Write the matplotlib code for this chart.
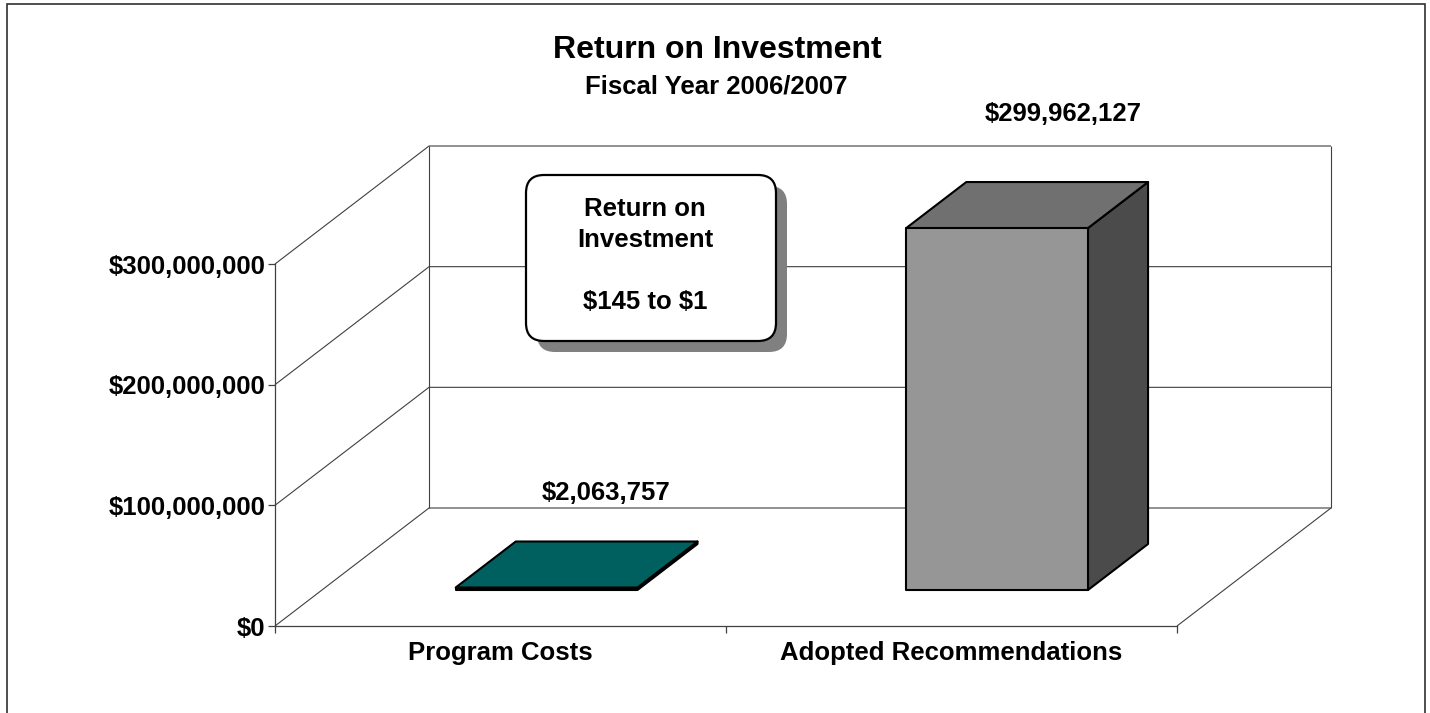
import matplotlib
matplotlib.use('Agg')
import matplotlib.pyplot as plt
from matplotlib.patches import Polygon, FancyBboxPatch, Rectangle

plt.rcParams['font.family'] = ['Liberation Sans', 'DejaVu Sans']
plt.rcParams['font.weight'] = 'bold'

categories = ['Program Costs', 'Adopted Recommendations']
values = [2063757, 299962127]
value_labels = ['$2,063,757', '$299,962,127']
y_ticks = [0, 100000000, 200000000, 300000000]
y_tick_labels = ['$0', '$100,000,000', '$200,000,000', '$300,000,000']

W, H = 1430, 713
Y_MAX = 300000000
BAR_WIDTH = 0.403
LABEL_SIZE = 18.5

# depth of the fake 3D box, in data units per unit of depth
DEPTH_X = 154 / 451
DEPTH_Y = 118 / 362 * Y_MAX
BAR_NEAR = 0.305
BAR_FAR = 0.695


def project(x, y, d=0.0):
    return (x + d * DEPTH_X, y + d * DEPTH_Y)


def box_line(ax, pts, color='#404040', lw=0.8):
    xs, ys = zip(*pts)
    ax.plot(xs, ys, color=color, lw=lw, clip_on=False, zorder=1, solid_capstyle='butt')


def draw_bar(ax, center, value, front, top, side):
    x0 = center - BAR_WIDTH / 2
    x1 = center + BAR_WIDTH / 2
    n, f = BAR_NEAR, BAR_FAR
    faces = [
        ([project(x1, 0, n), project(x1, 0, f), project(x1, value, f), project(x1, value, n)], side),
        ([project(x0, value, n), project(x1, value, n), project(x1, value, f), project(x0, value, f)], top),
        ([project(x0, 0, n), project(x1, 0, n), project(x1, value, n), project(x0, value, n)], front),
    ]
    for pts, color in faces:
        ax.add_patch(Polygon(pts, closed=True, facecolor=color, edgecolor='black',
                             lw=1.5, joinstyle='round', clip_on=False, zorder=3))


fig = plt.figure(figsize=(W / 100, H / 100), dpi=100)
ax = fig.add_axes([275 / W, 1 - 626 / H, (1177 - 275) / W, (626 - 264) / H])
ax.set_xlim(0, 2)
ax.set_ylim(0, Y_MAX)
ax.patch.set_visible(False)
for side in ['top', 'right']:
    ax.spines[side].set_visible(False)
for side in ['left', 'bottom']:
    ax.spines[side].set_color('#404040')
    ax.spines[side].set_linewidth(0.9)

# walls and gridlines
for t in y_ticks:
    box_line(ax, [project(0, t), project(0, t, 1), project(2, t, 1)])
box_line(ax, [project(0, 0, 1), project(0, Y_MAX, 1)])
box_line(ax, [project(2, 0, 1), project(2, Y_MAX, 1)])
box_line(ax, [project(2, 0), project(2, 0, 1)])

# bars
draw_bar(ax, 0.498, values[0], '#006060', '#006060', '#004040')
draw_bar(ax, 1.497, values[1], '#969696', '#707070', '#4b4b4b')

ax.set_yticks(y_ticks)
ax.set_yticklabels(y_tick_labels, fontsize=LABEL_SIZE)
ax.tick_params(axis='y', length=5, width=0.9, color='#404040', pad=2)
ax.set_xticks([0, 1, 2])
ax.set_xticklabels([])
ax.set_xticks([0.5, 1.5], minor=True)
ax.set_xticklabels(categories, minor=True, fontsize=LABEL_SIZE)
ax.tick_params(axis='x', which='major', length=5, width=0.9, color='#404040')
ax.tick_params(axis='x', which='minor', length=0, pad=11)

# value labels
ax.annotate(value_labels[0], project(0.5, values[0], BAR_FAR), xytext=(-1, 48), textcoords='offset pixels',
            ha='center', va='center', fontsize=LABEL_SIZE, zorder=5, annotation_clip=False)
ax.annotate(value_labels[1], project(1.5, values[1], BAR_FAR), xytext=(5, 68), textcoords='offset pixels',
            ha='center', va='center', fontsize=LABEL_SIZE, zorder=5, annotation_clip=False)

# titles
fig.text(717 / W, 1 - 50 / H, 'Return on Investment', ha='center', va='center', fontsize=23)
fig.text(716 / W, 1 - 86 / H, 'Fiscal Year 2006/2007', ha='center', va='center', fontsize=LABEL_SIZE)

# callout box with its shadow
overlay = fig.add_axes([0, 0, 1, 1])
overlay.set_xlim(0, W)
overlay.set_ylim(H, 0)
overlay.axis('off')
overlay.set_zorder(4)
overlay.add_patch(FancyBboxPatch((537 + 18, 186 + 18), 250 - 36, 166 - 36, boxstyle='round,pad=18,rounding_size=18',
                                 facecolor='#808080', edgecolor='none'))
overlay.add_patch(FancyBboxPatch((526 + 18, 175 + 18), 250 - 36, 166 - 36, boxstyle='round,pad=18,rounding_size=18',
                                 facecolor='white', edgecolor='black', lw=1.6))
overlay.text(645, 209, 'Return on', ha='center', va='center', fontsize=LABEL_SIZE)
overlay.text(645, 240, 'Investment', ha='center', va='center', fontsize=LABEL_SIZE)
overlay.text(645, 302, '$145 to $1', ha='center', va='center', fontsize=LABEL_SIZE, parse_math=False)

# chart frame
fig.add_artist(Rectangle((7 / W, -0.01), (1425 - 7) / W, 1.01 - 3.5 / H, transform=fig.transFigure,
                         fill=False, edgecolor='#303030', lw=1.2))

fig.savefig('out.png', dpi=100)
